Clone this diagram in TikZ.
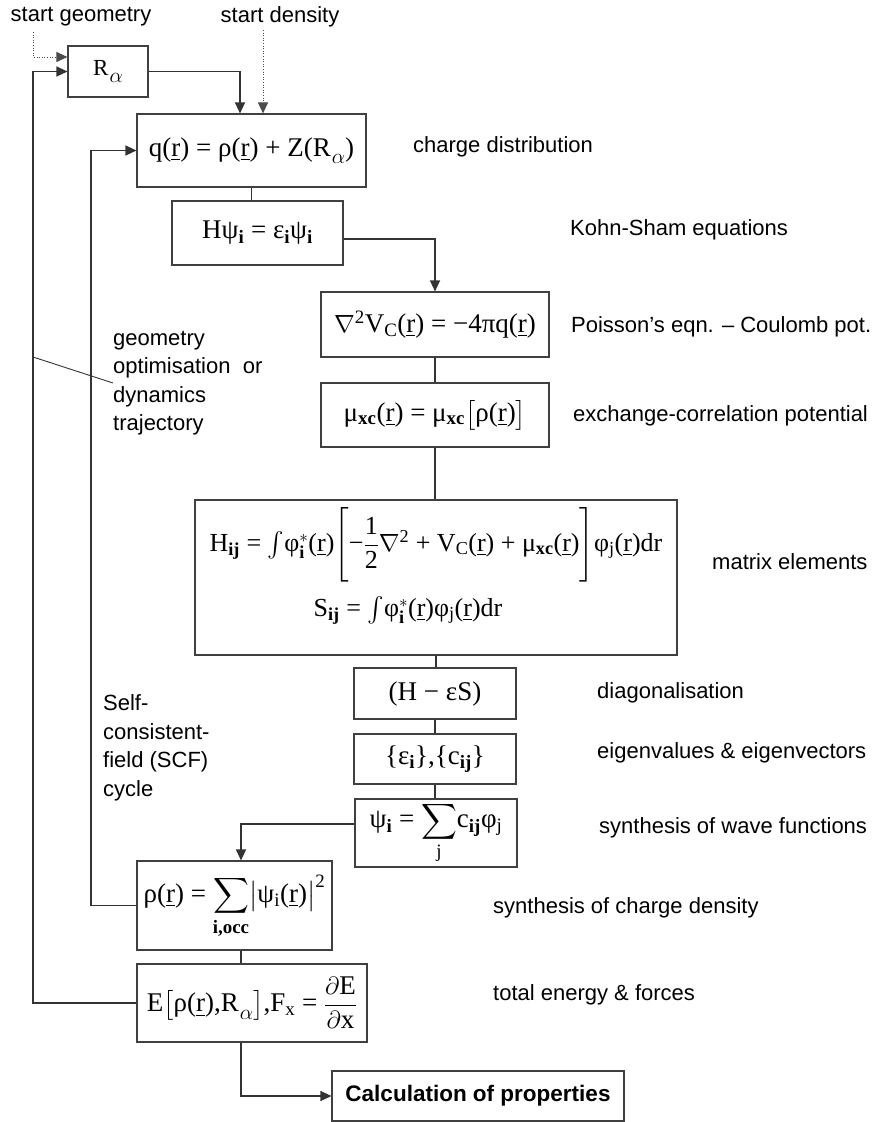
\documentclass[tikz,border=0pt]{standalone}
\usepackage{amsmath}
\usepackage{graphicx}
\usepackage{fontspec}
\setmainfont{Liberation Sans}
\newfontfamily\tms{Liberation Serif}
\usetikzlibrary{arrows.meta}
% underlined position vector, bold subscripts and the nuclear-position symbol
\newcommand\ur{\underline{r}}
\newcommand\sbb[1]{\textsubscript{\bfseries #1}}
\newcommand\Ral{R\kern1pt\raisebox{-0.28em}{\scalebox{0.85}{$\alpha$}}}
\begin{document}
\begin{tikzpicture}[x=1pt,y=-1pt,
  line/.style={draw=black!80,line width=1.1pt},
  tip/.style={-{Triangle[length=11pt,width=10pt]}},
  arr/.style={line,tip},
  dots/.style={draw=black!70,line width=1pt,dash pattern=on 1pt off 1.6pt},
  eqbox/.style={draw=black!75,line width=1.1pt,inner sep=0pt,
    font=\tms\fontsize{27}{30}\selectfont},
  eqtext/.style={inner sep=0pt,font=\tms\fontsize{26}{30}\selectfont},
  lbl/.style={font=\fontsize{22}{28.5}\selectfont,inner sep=0pt,anchor=west,align=left},
]
\useasboundingbox (0,0) rectangle (887,1122);

% ---------- equation boxes ----------
\node[eqbox,minimum width=80pt,minimum height=51pt,font=\tms\fontsize{23}{26}\selectfont]
  (R) at (108,71.5) {\Ral};
\node[eqbox,minimum width=229pt,minimum height=73pt] (q) at (251.5,150.5)
  {q(\ur) = ρ(\ur) + Z(\Ral)};
\node[eqbox,minimum width=171pt,minimum height=64pt] (Hpsi) at (257.5,233)
  {Hψ\sbb{i} = ε\sbb{i}ψ\sbb{i}};
\node[eqbox,minimum width=228pt,minimum height=65pt] (pois) at (435,324.5)
  {$\nabla$\textsuperscript{2}V\textsubscript{C}(\ur) = −4πq(\ur)};
\node[eqbox,minimum width=228pt,minimum height=64pt] (mu) at (435,415)
  {μ\sbb{xc}(\ur) = μ\sbb{xc}$\bigl[$ρ(\ur)$\bigr]$};
\node[eqbox,minimum width=482pt,minimum height=155pt] (mat) at (436,577.5) {};
\node[eqtext] (Hij) at (436,545)
  {H\sbb{ij} = $\int$φ$^{*}_{\text{\bfseries i}}$(\ur)$\Biggl[$−$\dfrac{\text{1}}{\text{2}}\nabla^{\text{2}}$
   + V\textsubscript{C}(\ur) + μ\sbb{xc}(\ur)$\Biggr]$φ\textsubscript{j}(\ur)dr};
\node[eqtext] (Sij) at (408,610)
  {S\sbb{ij} = $\int$φ$^{*}_{\text{\bfseries i}}$(\ur)φ\textsubscript{j}(\ur)dr};
\node[eqbox,minimum width=162pt,minimum height=51pt] (diag) at (435,693.5)
  {(H − εS)};
\node[eqbox,minimum width=162pt,minimum height=50pt] (eig) at (435,759)
  {\{ε\sbb{i}\},\{c\sbb{ij}\}};
\node[eqbox,minimum width=162pt,minimum height=68pt] (psi) at (436,833)
  {ψ\sbb{i} = $\displaystyle\sum_{\text{j}}$c\sbb{ij}φ\textsubscript{j}};
\node[eqbox,minimum width=195pt,minimum height=89pt] (rho) at (234.5,905.5)
  {\rule{0pt}{30pt}ρ(\ur) = $\displaystyle\sum_{\text{\bfseries i,occ}}\bigl|$ψ\textsubscript{i}(\ur)$\bigr|^{\text{2}}$};
\node[eqbox,minimum width=230pt,minimum height=78pt] (E) at (252,1003)
  {E$\bigl[$ρ(\ur),\Ral$\bigr]$,F\textsubscript{x} = $\dfrac{\partial\text{E}}{\partial\text{x}}$};
\node[draw=black!75,line width=1.1pt,minimum width=292pt,minimum height=50pt,inner sep=0pt,
  font=\bfseries\fontsize{22.5}{24}\selectfont] (calc) at (478,1096) {Calculation of properties};

% ---------- side labels ----------
\node[lbl,anchor=center] (sg) at (81,17) {start geometry};
\node[lbl,anchor=center] (sd) at (280,17) {start density};
\node[lbl] (l1) at (413,147) {charge distribution};
\node[lbl] (l2) at (570,230) {Kohn-Sham equations};
\node[lbl] (l3) at (571,327) {Poisson’s eqn. – Coulomb pot.};
\node[lbl] (l4) at (573,416) {exchange-correlation potential};
\node[lbl] (l5) at (712,562) {matrix elements};
\node[lbl] (l6) at (597,693) {diagonalisation};
\node[lbl] (l7) at (597,753) {eigenvalues \& eigenvectors};
\node[lbl] (l8) at (599,828) {synthesis of wave functions};
\node[lbl] (l9) at (493,908) {synthesis of charge density};
\node[lbl] (l10) at (493,995) {total energy \& forces};
\node[lbl] (geo) at (113,383) {geometry\\optimisation~~or\\dynamics\\trajectory};
\node[lbl] (scf) at (103,748) {Self-\\consistent-\\field (SCF)\\cycle};

% ---------- connectors ----------
\coordinate (oL) at (33,0);
\coordinate (iL) at (91,0);
\coordinate (sgT) at (33,32);
\coordinate (sdT) at (263,30);
\coordinate (gA) at (33,357);

\draw[dots,tip] (sgT) |- ([yshift=14.5pt]R.west);
\draw[dots,tip] (sdT) -- (sdT |- q.north);
\draw[arr] (R.east) -| ([xshift=-11.5pt]q.north);
\draw[line] (q.south) -- (q.south |- Hpsi.north);
\draw[arr] ([yshift=-6pt]Hpsi.east) -| (pois.north);
\draw[line] (pois.south) -- (pois.south |- mu.north);
\draw[line] (mu.south) -- (mu.south |- mat.north);
\draw[line] (mat.south) -- (mat.south |- diag.north);
\draw[line] (diag.south) -- (diag.south |- eig.north);
\draw[line] (eig.south) -- (eig.south |- psi.north);
\draw[arr] ([yshift=9pt]psi.west) -| ([xshift=6.5pt]rho.north);
\draw[line] ([xshift=6.5pt]rho.south) -- ([xshift=6.5pt]rho.south |- E.north);
\draw[arr] ([xshift=-11pt]E.south) |- (calc.west);
\draw[arr] (rho.west) -- (rho.west -| iL) |- (q.west);
\draw[arr] (E.west) -- (E.west -| oL) |- (R.west);
\draw[line,line width=0.9pt] (gA) -- (geo.west);
\end{tikzpicture}
\end{document}
